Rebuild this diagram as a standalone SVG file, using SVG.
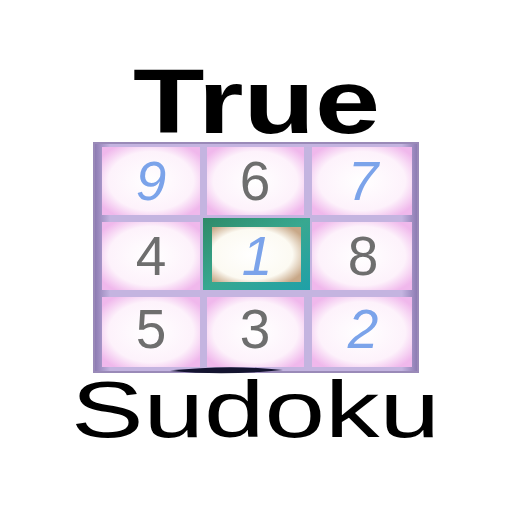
<svg xmlns="http://www.w3.org/2000/svg" width="512" height="512" viewBox="0 0 512 512">
<defs>
  <radialGradient id="cellG" cx="50%" cy="50%" r="62%">
    <stop offset="0" stop-color="#ffffff"/>
    <stop offset="0.7" stop-color="#fdf2fb"/>
    <stop offset="1" stop-color="#f0b8ec"/>
  </radialGradient>
  <radialGradient id="centerG" cx="45%" cy="50%" r="65%">
    <stop offset="0" stop-color="#ffffff"/>
    <stop offset="0.7" stop-color="#fcfaf2"/>
    <stop offset="1" stop-color="#c8a888"/>
  </radialGradient>
  <linearGradient id="greenG" x1="0" y1="0" x2="1" y2="1">
    <stop offset="0" stop-color="#2e8a68"/>
    <stop offset="0.5" stop-color="#38a890"/>
    <stop offset="1" stop-color="#1fa0a8"/>
  </linearGradient>
  <linearGradient id="frameG" x1="0" y1="0" x2="1" y2="0">
    <stop offset="0" stop-color="#8a78b0"/>
    <stop offset="0.05" stop-color="#c4b4e0"/>
    <stop offset="0.95" stop-color="#c4b4e0"/>
    <stop offset="1" stop-color="#8a78b0"/>
  </linearGradient>
</defs>
<style>
  .cell { fill: url(#cellG); }
  .d { font-family: "Liberation Sans", "DejaVu Sans", sans-serif; font-size: 55px; text-anchor: middle; }
  .g { fill: #6e6e6e; }
  .b { fill: #7ba3ea; font-style: italic; }
  .title { font-family: "Liberation Sans", Arial, sans-serif; fill: #000; }
</style>
<rect width="512" height="512" fill="#ffffff"/>
<text class="title" x="133" y="133" font-size="90" font-weight="bold" textLength="247" lengthAdjust="spacingAndGlyphs">True</text>
<g id="grid">
  <rect x="94" y="143" width="324" height="229" fill="url(#frameG)" stroke="#9a8ab8" stroke-width="2"/>
  <path d="M170 371 Q226 364 283 370 Q226 376 170 371 Z" fill="#141430"/>
</g>
<g id="cell-9"><rect class="cell" x="102" y="147" width="98" height="68"/><text class="d b" x="151" y="200">9</text></g>
<g id="cell-6"><rect class="cell" x="207" y="147" width="97" height="68"/><text class="d g" x="255" y="200">6</text></g>
<g id="cell-7"><rect class="cell" x="312" y="147" width="100" height="68"/><text class="d b" x="363" y="200">7</text></g>
<g id="cell-4"><rect class="cell" x="102" y="222" width="98" height="68"/><text class="d g" x="151" y="275">4</text></g>
<g id="cell-1">
  <rect x="203" y="218" width="107" height="72" fill="url(#greenG)"/>
  <rect x="212" y="227" width="89" height="55" fill="url(#centerG)"/>
  <text class="d b" x="257" y="275">1</text>
</g>
<g id="cell-8"><rect class="cell" x="312" y="222" width="100" height="68"/><text class="d g" x="363" y="275">8</text></g>
<g id="cell-5"><rect class="cell" x="102" y="297" width="98" height="70"/><text class="d g" x="151" y="348">5</text></g>
<g id="cell-3"><rect class="cell" x="207" y="297" width="97" height="70"/><text class="d g" x="255" y="348">3</text></g>
<g id="cell-2"><rect class="cell" x="312" y="297" width="100" height="70"/><text class="d b" x="363" y="348">2</text></g>
<text class="title" x="71" y="437" font-size="80" textLength="369" lengthAdjust="spacingAndGlyphs">Sudoku</text>
</svg>
